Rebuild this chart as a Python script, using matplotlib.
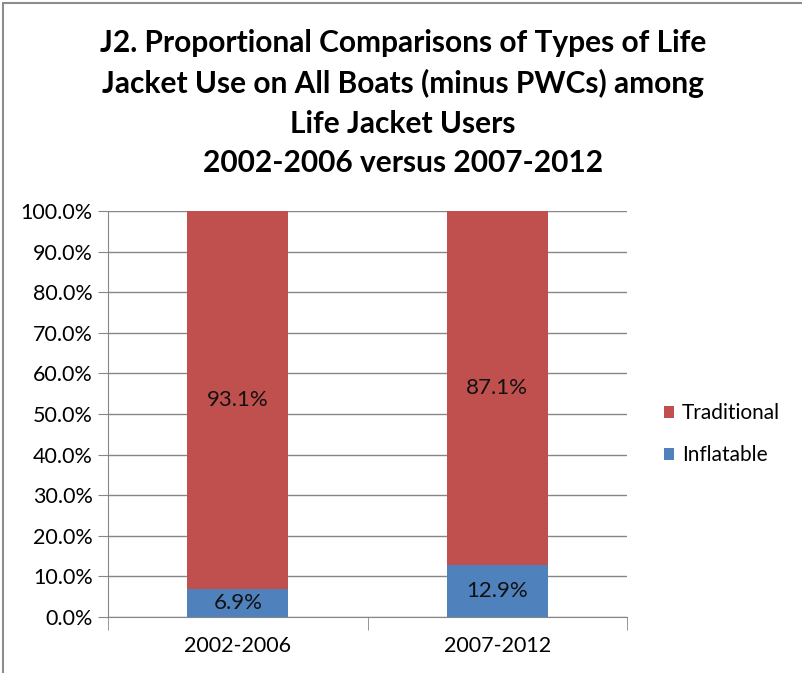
import matplotlib.pyplot as plt
from matplotlib.patches import Rectangle

# data
periods = ['2002-2006', '2007-2012']
inflatable = [6.9, 12.9]
traditional = [93.1, 87.1]
yticks = [0, 10, 20, 30, 40, 50, 60, 70, 80, 90, 100]

red = '#C0504D'
blue = '#4F81BD'
plt.rcParams['font.family'] = ['Lato', 'DejaVu Sans']

fig = plt.figure(figsize=(8.03, 6.73), dpi=100)
fig.patches.append(Rectangle((0.004, -0.01), 1.2, 1.006, transform=fig.transFigure,
                             fill=False, edgecolor='#8c8c8c', linewidth=1.5))

ax = fig.add_axes([0.1345, 0.0832, 0.6465, 0.6033])
x = range(len(periods))
b1 = ax.bar(x, inflatable, width=0.39, color=blue, label='Inflatable', zorder=3)
b2 = ax.bar(x, traditional, width=0.39, bottom=inflatable, color=red, label='Traditional', zorder=3)

for i in x:
    ax.text(i, inflatable[i] / 2, f'{inflatable[i]:.1f}%', ha='center', va='center',
            fontsize=16, color='#111111', zorder=4)
    ax.text(i, inflatable[i] + traditional[i] / 2, f'{traditional[i]:.1f}%', ha='center',
            va='center', fontsize=16, color='#111111', zorder=4)

ax.set_xlim(-0.5, 1.5)
ax.set_ylim(0, 100)
ax.set_yticks(yticks)
ax.set_yticklabels([f'{v:.1f}%' for v in yticks], fontsize=15.5)
ax.set_xticks(list(x))
ax.set_xticklabels(periods, fontsize=15.5)
ax.tick_params(axis='x', length=0, pad=14)
ax.tick_params(axis='y', length=7, color='#868686', pad=4)
# category separators
ax.set_xticks([-0.5, 0.5, 1.5], minor=True)
ax.tick_params(axis='x', which='minor', length=9, color='#868686')
ax.grid(axis='y', color='#868686', linewidth=1, zorder=0)
for s in ['top', 'right']:
    ax.spines[s].set_visible(False)
ax.spines['left'].set_color('#868686')
ax.spines['bottom'].set_color('#868686')

ax.legend(handles=[b2, b1], loc='center left', bbox_to_anchor=(1.035, 0.45), frameon=False,
          fontsize=15, handlelength=0.5, handleheight=0.5, labelspacing=1.05, handletextpad=0.35)

fig.text(0.502, 0.957, 'J2. Proportional Comparisons of Types of Life\n'
         'Jacket Use on All Boats (minus PWCs) among\n'
         'Life Jacket Users\n'
         '2002-2006 versus 2007-2012', ha='center', va='top', fontsize=21.5,
         fontweight='bold', linespacing=1.5)

fig.savefig('out.png', dpi=100)
